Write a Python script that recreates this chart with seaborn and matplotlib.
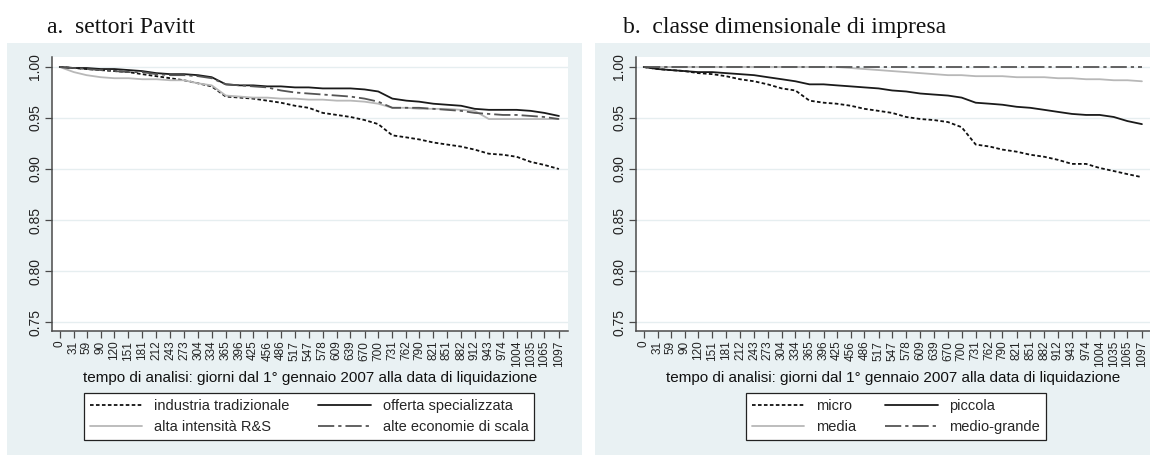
import matplotlib
matplotlib.use("Agg")
import matplotlib.pyplot as plt
from matplotlib.patches import Rectangle
from matplotlib.lines import Line2D
import seaborn as sns
import pandas as pd

# ---------------- data ----------------
days = [0, 31, 59, 90, 120, 151, 181, 212, 243, 273, 304, 334, 365, 396, 425, 456,
        486, 517, 547, 578, 609, 639, 670, 700, 731, 762, 790, 821, 851, 882, 912,
        943, 974, 1004, 1035, 1065, 1097]
tick_labels = [str(d) for d in days]
y_ticks = [0.75, 0.80, 0.85, 0.90, 0.95, 1.00]

# panel a: settori Pavitt
industria_tradizionale = [1.000, 0.999, 0.998, 0.997, 0.996, 0.995, 0.993, 0.991, 0.989, 0.987,
                          0.984, 0.981, 0.971, 0.970, 0.969, 0.967, 0.965, 0.962, 0.960, 0.955,
                          0.953, 0.951, 0.948, 0.944, 0.933, 0.931, 0.929, 0.926, 0.924, 0.922,
                          0.919, 0.915, 0.914, 0.912, 0.907, 0.904, 0.900]
offerta_specializzata = [1.000, 0.999, 0.999, 0.998, 0.998, 0.997, 0.996, 0.994, 0.993, 0.993,
                         0.992, 0.990, 0.983, 0.982, 0.982, 0.981, 0.981, 0.980, 0.980, 0.979,
                         0.979, 0.979, 0.978, 0.976, 0.969, 0.967, 0.966, 0.964, 0.963, 0.962,
                         0.959, 0.958, 0.958, 0.958, 0.957, 0.955, 0.952]
alta_intensita_rs = [1.000, 0.995, 0.992, 0.990, 0.989, 0.989, 0.988, 0.988, 0.987, 0.987,
                     0.984, 0.982, 0.972, 0.971, 0.970, 0.970, 0.969, 0.969, 0.968, 0.968,
                     0.967, 0.967, 0.966, 0.964, 0.960, 0.960, 0.959, 0.959, 0.959, 0.958,
                     0.957, 0.949, 0.949, 0.949, 0.949, 0.949, 0.949]
alte_economie_scala = [1.000, 0.999, 0.998, 0.997, 0.996, 0.995, 0.995, 0.993, 0.992, 0.992,
                       0.991, 0.989, 0.983, 0.982, 0.981, 0.980, 0.977, 0.975, 0.974, 0.973,
                       0.972, 0.971, 0.969, 0.966, 0.960, 0.960, 0.960, 0.959, 0.958, 0.957,
                       0.955, 0.954, 0.953, 0.953, 0.952, 0.951, 0.949]

# panel b: classe dimensionale di impresa
micro = [1.000, 0.998, 0.997, 0.996, 0.994, 0.993, 0.991, 0.988, 0.986, 0.983,
         0.979, 0.977, 0.967, 0.965, 0.964, 0.962, 0.959, 0.957, 0.955, 0.951,
         0.949, 0.948, 0.946, 0.941, 0.924, 0.922, 0.919, 0.917, 0.914, 0.912,
         0.909, 0.905, 0.905, 0.901, 0.898, 0.895, 0.892]
piccola = [1.000, 0.998, 0.997, 0.996, 0.995, 0.995, 0.994, 0.993, 0.992, 0.990,
           0.988, 0.986, 0.983, 0.983, 0.982, 0.981, 0.980, 0.979, 0.977, 0.976,
           0.974, 0.973, 0.972, 0.970, 0.965, 0.964, 0.963, 0.961, 0.960, 0.958,
           0.956, 0.954, 0.953, 0.953, 0.951, 0.947, 0.944]
media = [1.000, 1.000, 1.000, 1.000, 1.000, 1.000, 1.000, 1.000, 1.000, 1.000,
         1.000, 1.000, 1.000, 1.000, 1.000, 0.999, 0.998, 0.997, 0.996, 0.995,
         0.994, 0.993, 0.992, 0.992, 0.991, 0.991, 0.991, 0.990, 0.990, 0.990,
         0.989, 0.989, 0.988, 0.988, 0.987, 0.987, 0.986]
medio_grande = [1.000] * 37

panels = [
    ("a.  settori Pavitt",
     [("industria tradizionale", industria_tradizionale),
      ("alta intensità R&S", alta_intensita_rs),
      ("offerta specializzata", offerta_specializzata),
      ("alte economie di scala", alte_economie_scala)]),
    ("b.  classe dimensionale di impresa",
     [("micro", micro),
      ("media", media),
      ("piccola", piccola),
      ("medio-grande", medio_grande)]),
]
# style by position in each panel: dotted black, light grey, solid black, dash-dot grey
styles = [
    dict(color="#111111", linestyle=(0, (2.0, 1.3)), linewidth=1.3),
    dict(color="#b8b8b8", linestyle="-", linewidth=1.3),
    dict(color="#1a1a1a", linestyle="-", linewidth=1.3),
    dict(color="#555555", linestyle=(0, (9, 2.2, 1.8, 2.2)), linewidth=1.3),
]
draw_order = [1, 3, 2, 0]

# ---------------- layout ----------------
sns.set_style("white")
plt.rcParams["font.family"] = ["Liberation Sans", "DejaVu Sans"]

W, H = 1150, 455
fig = plt.figure(figsize=(W / 100, H / 100), dpi=100)
fig.patch.set_facecolor("white")

bg = "#e9f1f3"
axis_col = "#4a4a4a"
fig.patches.append(Rectangle((7 / W, 0), (582 - 7) / W, (455 - 43) / H,
                             transform=fig.transFigure, facecolor=bg, edgecolor="none", zorder=-5))
fig.patches.append(Rectangle((595 / W, 0), (1150 - 595) / W, (455 - 43) / H,
                             transform=fig.transFigure, facecolor=bg, edgecolor="none", zorder=-5))

ax_boxes = [(52, 568), (636, 1151)]
top_px, bot_px = 57, 331
title_x = [47, 623]
legend_centers = [309, 896]

for i, (title, series) in enumerate(panels):
    l, r = ax_boxes[i]
    ax = fig.add_axes([l / W, (H - bot_px) / H, (r - l) / W, (bot_px - top_px) / H])
    ax.set_zorder(2)
    ax.set_facecolor("white")
    for yv in y_ticks:
        ax.axhline(yv, color="#e6eef0", linewidth=1.0, zorder=0)
    for j in draw_order:
        name, vals = series[j]
        df = pd.DataFrame({"giorni": days, "sopravvivenza": vals})
        sns.lineplot(data=df, x="giorni", y="sopravvivenza", ax=ax, zorder=3 + j,
                     **styles[j])
    handles = [Line2D([], [], **styles[j]) for j in range(4)]
    ax.set_xlim(-17, 1117)
    ax.set_ylim(0.7412, 1.0098)
    ax.set_xticks(days)
    ax.set_xticklabels(tick_labels, rotation=90, fontsize=8.5, color="#222222")
    ax.set_yticks(y_ticks)
    ax.set_yticklabels([f"{v:.2f}" for v in y_ticks], rotation=90, va="center",
                       fontsize=10, color="#222222")
    ax.tick_params(axis="both", direction="out", length=5, width=0.9, color=axis_col,
                   pad=2, bottom=True, left=True)
    for s in ["top", "right"]:
        ax.spines[s].set_visible(False)
    for s in ["left", "bottom"]:
        ax.spines[s].set_color(axis_col)
        ax.spines[s].set_linewidth(1.1)
    ax.set_xlabel("tempo di analisi: giorni dal 1° gennaio 2007 alla data di liquidazione",
                  fontsize=11, color="#111111", labelpad=3)
    ax.set_ylabel("")
    if ax.get_legend() is not None:
        ax.get_legend().remove()

    fig.text(title_x[i] / W, 1 - 33 / H, title, family=["Liberation Serif", "DejaVu Serif"],
             fontsize=17, va="baseline", ha="left", color="#111111")

    leg = fig.legend(handles, [s[0] for s in series], ncol=2,
                     loc="upper center", bbox_to_anchor=(legend_centers[i] / W, 1 - 393 / H),
                     borderaxespad=0,
                     frameon=True, fancybox=False, fontsize=10.5, handlelength=3.6,
                     handletextpad=0.8, columnspacing=2.0, labelspacing=0.5,
                     borderpad=0.4, edgecolor="#222222", framealpha=1)
    leg.get_frame().set_linewidth(0.9)
    leg.get_frame().set_facecolor("white")

fig.savefig("out.png", dpi=100, facecolor="white")
